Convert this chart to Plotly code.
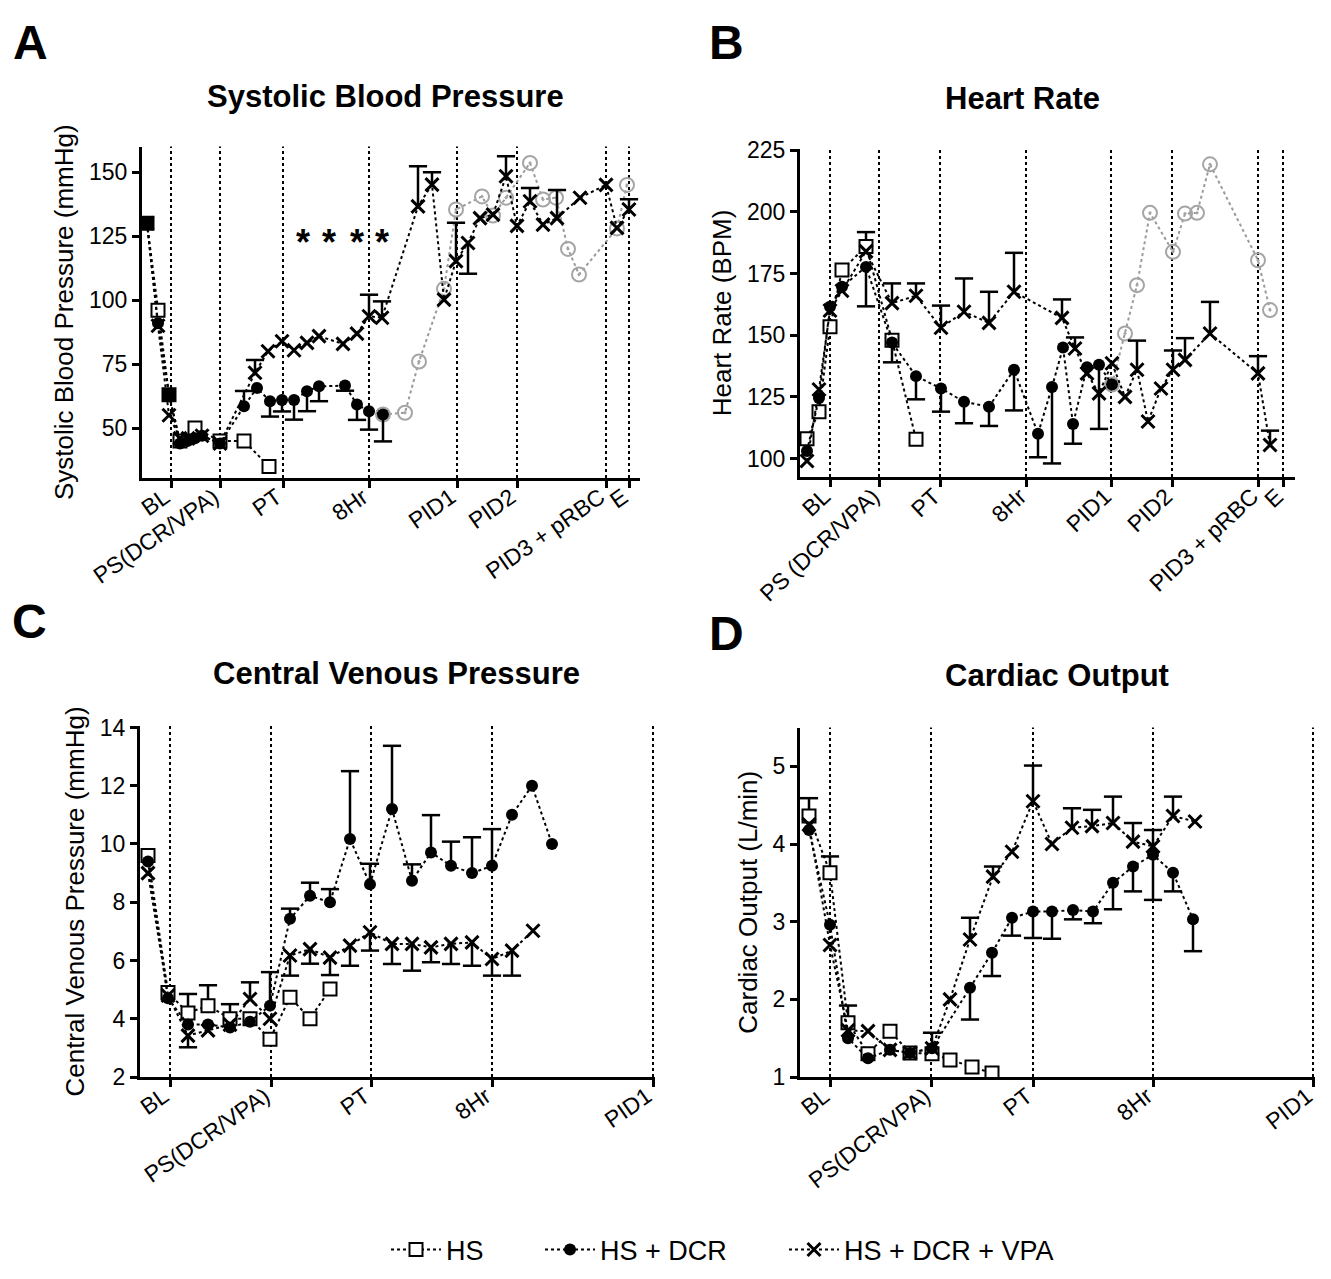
import plotly.graph_objects as go

FONT = "Liberation Sans, Arial, Helvetica, sans-serif"
PAGE_PAD = 8                      # default body margin of the html page
W, H = 1331 - 2 * PAGE_PAD, 1279 - 2 * PAGE_PAD

# ---------------- Panel A : Systolic Blood Pressure (mmHg) ----------------
a_events = [29, 78, 141, 227, 315, 375, 464, 487]
a_event_labels = ["BL", "PS(DCR/VPA)", "PT", "8Hr", "PID1", "PID2", "PID3 + pRBC", "E"]

a_hs_t = [5, 16, 27, 38, 53, 78, 102, 127]
a_hs_v = [130, 96, 63, 45, 50, 45, 45, 35]
a_hs_e = [0, 0, 0, 0, 0, 0, 0, 0]

a_dcr_t = [5, 16, 27, 38, 46, 53, 60, 78, 102, 115, 128, 140, 152, 165, 177, 203, 215, 227, 241]
a_dcr_v = [130, 91, 63, 44, 45, 46, 47, 44, 58.5, 65.7, 60.5, 61, 61, 64.4, 66.3, 66.6, 59.2, 56.6, 55.3]
a_dcr_e = [0, 0, 0, 0, 0, 0, 0, 0, 6, 0, -6, -4.5, -7.7, -7.8, -5.8, -2, -6, -7.2, -10.5]

a_vpa_t = [5, 16, 27, 38, 46, 60, 78, 113, 126, 140, 152, 165, 177, 201, 215, 227, 240,
           276, 290, 302, 314, 326, 338, 351, 364, 375, 388, 401, 415, 438, 464, 475, 487]
a_vpa_v = [130, 90, 55, 46, 46, 47, 44, 71.6, 80, 83.9, 80.4, 83.3, 85.9, 82.9, 86.9, 93.7, 93.1,
           136.6, 145.1, 100.2, 115.2, 122.3, 132, 133.4, 148.4, 129, 138.6, 129.5, 132, 140, 145, 128.2, 135.4]
a_vpa_e = [0, 0, 0, 0, 0, 0, 0, 5, 0, 0, 0, 0, 0, 0, 0, 8.4, 6.4,
           15.7, 4.8, 0, 15, -12, 0, 0, 7.8, 0, 5.2, 0, 11, 0, 0, 0, 4]

a_grey_t = [241, 263, 277, 302, 314, 340, 351, 364, 388, 401, 414, 426, 437, 475, 485]
a_grey_v = [55.3, 56, 76, 104.4, 135.4, 140.5, 133, 140, 153.6, 139.3, 140, 120, 110, 128, 145]

a_sig_t = [161, 187, 215, 240]
a_sig_level = 121

# ---------------- Panel B : Heart Rate (BPM) ----------------
b_events = [30, 79, 140, 226, 311, 372, 458, 483]
b_event_labels = ["BL", "PS (DCR/VPA)", "PT", "8Hr", "PID1", "PID2", "PID3 + pRBC", "E"]

b_hs_t = [7, 19, 30, 42, 66, 92, 116]
b_hs_v = [108, 119, 153.4, 176.4, 186, 148, 107.8]
b_hs_e = [0, 0, 0, 0, 5.8, -9, 0]

b_dcr_t = [7, 19, 30, 42, 66, 92, 116, 141, 164, 189, 214, 238, 252, 263, 273, 287, 299, 312]
b_dcr_v = [103, 124.5, 161.5, 169.6, 177.7, 147, 133.4, 128.4, 123, 121, 136, 110, 129, 145, 114, 137, 138, 130]
b_dcr_e = [0, 0, 0, 0, -16, 0, -9.4, -9.4, -8.7, -7.8, -16.5, -9.5, -31, 0, -8, 0, -26, 0]

b_vpa_t = [7, 19, 30, 42, 66, 92, 116, 141, 164, 189, 214, 262, 275, 287, 299, 312, 325, 337,
           348, 361, 373, 385, 410, 458, 470]
b_vpa_v = [99, 128, 160, 168, 184, 163, 166, 153, 159.5, 155, 167.6, 157, 144.6, 134.5, 126.4, 138.6,
           125, 136, 115, 128.4, 136, 140, 150.7, 134.5, 105.5]
b_vpa_e = [0, 0, 0, 0, 0, 8, 5, 9, 13.5, 12.6, 15.8, 7.5, 4.5, 0, 0, 0, 0, 11.8, 0, 0, 7.8, 8.8, 12.8, 7, 5.8]

b_grey_t = [312, 325, 337, 350, 373, 385, 397, 410, 458, 470]
b_grey_v = [130, 150.7, 170.3, 199.6, 183.8, 199.3, 199.6, 219.3, 180.4, 160.2]

# ---------------- Panel C : Central Venous Pressure (mmHg) ----------------
c_events = [30, 131, 231, 352, 513]
c_event_labels = ["BL", "PS(DCR/VPA)", "PT", "8Hr", "PID1"]

c_hs_t = [8, 28, 48, 68, 90, 110, 130, 150, 170, 190]
c_hs_v = [9.6, 4.9, 4.2, 4.45, 4.0, 4.0, 3.3, 4.74, 4.0, 5.02]
c_hs_e = [0, 0, 0.65, 0.7, 0.5, 0, 0, 0, 0, 0]

c_dcr_t = [8, 28, 48, 68, 90, 110, 130, 150, 170, 190, 210, 230, 252, 272, 291, 311, 332, 352, 372, 392, 412]
c_dcr_v = [9.4, 4.7, 3.8, 3.8, 3.7, 3.9, 4.45, 7.43, 8.22, 8.0, 10.17, 8.62, 11.2, 8.74, 9.71, 9.25, 9.0,
           9.25, 11.0, 12.0, 10.0]
c_dcr_e = [0, 0, 0, 0, 0, 0, 1.15, 0.35, 0.45, 0.45, 2.33, 0.7, 2.17, 0.56, 1.28, 0.83, 1.23, 1.26, 0, 0, 0]

c_vpa_t = [8, 28, 48, 68, 90, 110, 130, 150, 170, 190, 210, 230, 252, 272, 291, 311, 332, 352, 372, 393]
c_vpa_v = [9.0, 4.8, 3.42, 3.6, 3.8, 4.68, 4.0, 6.17, 6.39, 6.1, 6.51, 6.97, 6.57, 6.57, 6.45, 6.57,
           6.62, 6.05, 6.34, 7.02]
c_vpa_e = [0, 0, -0.4, 0, 0, 0.57, 0, -0.69, -0.5, -0.6, -0.69, -0.63, -0.69, -0.92, -0.51, -0.69,
           -0.8, -0.57, -0.86, 0]

# ---------------- Panel D : Cardiac Output (L/min) ----------------
d_events = [30, 131, 233, 353, 513]
d_event_labels = ["BL", "PS(DCR/VPA)", "PT", "8Hr", "PID1"]

d_hs_t = [9, 30, 48, 68, 90, 110, 132, 150, 172, 192]
d_hs_v = [4.36, 3.63, 1.7, 1.3, 1.59, 1.31, 1.3, 1.22, 1.13, 1.05]
d_hs_e = [0.23, 0.21, 0.22, 0, 0, 0, 0, 0, 0, 0]

d_dcr_t = [9, 30, 48, 68, 90, 110, 132, 170, 192, 212, 233, 252, 273, 293, 313, 333, 353, 373, 393]
d_dcr_v = [4.18, 2.96, 1.5, 1.24, 1.35, 1.31, 1.37, 2.15, 2.6, 3.05, 3.13, 3.13, 3.15, 3.13, 3.5, 3.71,
           3.86, 3.63, 3.03]
d_dcr_e = [0, 0, 0, 0, 0, 0, 0.2, -0.41, -0.3, -0.23, -0.34, -0.35, -0.12, -0.15, -0.34, -0.32,
           -0.58, -0.24, -0.41]

d_vpa_t = [9, 30, 48, 68, 90, 110, 132, 150, 170, 193, 212, 233, 252, 272, 292, 313, 333, 353, 373, 395]
d_vpa_v = [4.25, 2.7, 1.6, 1.59, 1.35, 1.31, 1.37, 2.0, 2.77, 3.58, 3.9, 4.55, 4.0, 4.21, 4.23, 4.27,
           4.03, 3.97, 4.36, 4.29]
d_vpa_e = [0, 0, 0, 0, 0, 0, 0, 0, 0.28, 0.13, 0, 0.46, 0, 0.25, 0.21, 0.34, 0.24, 0.21, 0.25, 0]

# ---------------- figure ----------------
fig = go.Figure()


def px_x(p):
    return (p - PAGE_PAD) / W


def px_y(p):
    return 1 - (p - PAGE_PAD) / H


def add_errors(xa, ya, t, v, e):
    xs, ys, back_up, back_dn = [], [], [], []
    for ti, vi, ei in zip(t, v, e):
        if ei:
            xs.append(ti)
            ys.append(vi + ei)
            back_up.append(max(-ei, 0))
            back_dn.append(max(ei, 0))
    fig.add_trace(go.Scatter(
        x=xs, y=ys, xaxis=xa, yaxis=ya, mode="markers",
        marker=dict(symbol="line-ew-open", size=13, color="black",
                    line=dict(color="black", width=2.5)),
        error_y=dict(type="data", symmetric=False, array=back_up, arrayminus=back_dn,
                     width=0, thickness=2.5, color="black"),
        showlegend=False, hoverinfo="skip"))


LINE = dict(color="black", width=2, dash="dot")
STY = {
    "HS": dict(symbol="square", size=13, color="white", line=dict(color="black", width=2)),
    "HS + DCR": dict(symbol="circle", size=12, color="black", line=dict(color="black", width=0)),
    "HS + DCR + VPA": dict(symbol="x-thin", size=13, color="black", line=dict(color="black", width=3)),
}
LEGEND_OF = {"HS": "legend", "HS + DCR": "legend2", "HS + DCR + VPA": "legend3"}


def add_series(xa, ya, name, t, v, e, show, fill_idx=()):
    add_errors(xa, ya, t, v, e)
    mk = dict(STY[name])
    if fill_idx:
        mk["color"] = ["black" if i in fill_idx else "white" for i in range(len(t))]
    fig.add_trace(go.Scatter(
        x=t, y=v, xaxis=xa, yaxis=ya, mode="lines+markers", name=name,
        line=LINE, marker=mk, showlegend=show, legend=LEGEND_OF[name], hoverinfo="skip"))


def add_grey(xa, ya, t, v):
    fig.add_trace(go.Scatter(
        x=t, y=v, xaxis=xa, yaxis=ya, mode="lines+markers",
        line=dict(color="#9a9a9a", width=2, dash="dot"),
        marker=dict(symbol="circle-open-dot", size=14, color="#a5a5a5", line=dict(width=2)),
        showlegend=False, hoverinfo="skip"))


# Panel A
add_grey("x", "y", a_grey_t, a_grey_v)
add_series("x", "y", "HS", a_hs_t, a_hs_v, a_hs_e, False, fill_idx=(0, 2))
add_series("x", "y", "HS + DCR", a_dcr_t, a_dcr_v, a_dcr_e, False)
add_series("x", "y", "HS + DCR + VPA", a_vpa_t, a_vpa_v, a_vpa_e, False)
fig.add_trace(go.Scatter(x=a_sig_t, y=[a_sig_level] * len(a_sig_t), xaxis="x", yaxis="y",
                         mode="text", text=["<b>*</b>"] * len(a_sig_t),
                         textfont=dict(size=36, color="black", family=FONT),
                         showlegend=False, hoverinfo="skip"))
# Panel B (carries the legend entries)
add_grey("x2", "y2", b_grey_t, b_grey_v)
add_series("x2", "y2", "HS", b_hs_t, b_hs_v, b_hs_e, True)
add_series("x2", "y2", "HS + DCR", b_dcr_t, b_dcr_v, b_dcr_e, True)
add_series("x2", "y2", "HS + DCR + VPA", b_vpa_t, b_vpa_v, b_vpa_e, True)
# Panel C
add_series("x3", "y3", "HS", c_hs_t, c_hs_v, c_hs_e, False)
add_series("x3", "y3", "HS + DCR", c_dcr_t, c_dcr_v, c_dcr_e, False)
add_series("x3", "y3", "HS + DCR + VPA", c_vpa_t, c_vpa_v, c_vpa_e, False)
# Panel D
add_series("x4", "y4", "HS", d_hs_t, d_hs_v, d_hs_e, False)
add_series("x4", "y4", "HS + DCR", d_dcr_t, d_dcr_v, d_dcr_e, False)
add_series("x4", "y4", "HS + DCR + VPA", d_vpa_t, d_vpa_v, d_vpa_e, False)

AX = dict(showline=True, linecolor="black", linewidth=3, ticks="outside", ticklen=7, tickwidth=3,
          tickcolor="black", showgrid=False, zeroline=False, fixedrange=True, automargin=False,
          tickfont=dict(size=23, color="black", family=FONT))


def xax(dom, rng, vals, labels, anchor, angle):
    return dict(AX, domain=dom, range=rng, tickvals=vals, ticktext=labels, tickangle=angle,
                anchor=anchor, ticklabelstandoff=-13, ticklabelshift=-6)


def yax(dom, rng, vals, title, anchor):
    return dict(AX, domain=dom, range=rng, tickvals=vals, anchor=anchor,
                title=dict(text=title, font=dict(size=26, color="black", family=FONT), standoff=8))


LEG = dict(orientation="h", yanchor="middle", xanchor="left", y=px_y(1250), itemwidth=50,
           font=dict(size=27, color="black", family=FONT), bgcolor="rgba(0,0,0,0)")

fig.update_layout(
    width=W, height=H, margin=dict(l=0, r=0, t=0, b=0, autoexpand=False),
    paper_bgcolor="white", plot_bgcolor="white",
    font=dict(family=FONT, color="black"),
    xaxis=xax([px_x(142), px_x(640)], [0, 498], a_events, a_event_labels, "y", -35),
    yaxis=yax([px_y(478), px_y(146.5)], [30.5, 160], [50, 75, 100, 125, 150],
              "Systolic Blood Pressure (mmHg)", "x"),
    xaxis2=xax([px_x(800), px_x(1295)], [0, 495], b_events, b_event_labels, "y2", -43),
    yaxis2=yax([px_y(477), px_y(149)], [92.5, 225.5], [100, 125, 150, 175, 200, 225],
               "Heart Rate (BPM)", "x2"),
    xaxis3=xax([px_x(140), px_x(655)], [0, 515], c_events, c_event_labels, "y3", -35),
    yaxis3=yax([px_y(1077), px_y(726)], [2, 14.05], [2, 4, 6, 8, 10, 12, 14],
               "Central Venous Pressure (mmHg)", "x3"),
    xaxis4=xax([px_x(800), px_x(1315)], [0, 515], d_events, d_event_labels, "y4", -38),
    yaxis4=yax([px_y(1077), px_y(727.5)], [1, 5.5], [1, 2, 3, 4, 5],
               "Cardiac Output (L/min)", "x4"),
    legend=dict(LEG, x=px_x(386)),
    legend2=dict(LEG, x=px_x(540)),
    legend3=dict(LEG, x=px_x(784)),
)

# event lines
shapes = []
for xa, ya, evs in [("x", "y", a_events), ("x2", "y2", b_events),
                    ("x3", "y3", c_events), ("x4", "y4", d_events)]:
    for ev in evs:
        shapes.append(dict(type="line", xref=xa, yref=ya + " domain", x0=ev, x1=ev, y0=0, y1=1,
                           line=dict(color="black", width=2, dash="dot"), layer="below"))
fig.update_layout(shapes=shapes)

ann = []
for txt, x, y in [("A", 30, 42), ("B", 726, 42), ("C", 29, 622), ("D", 726, 634)]:
    ann.append(dict(text="<b>" + txt + "</b>", x=px_x(x), y=px_y(y), xref="paper", yref="paper",
                    showarrow=False, font=dict(size=48, color="black", family=FONT),
                    xanchor="center", yanchor="middle"))
for txt, x, y in [("Systolic Blood Pressure", 385, 96), ("Heart Rate", 1022, 98),
                  ("Central Venous Pressure", 396, 673), ("Cardiac Output", 1057, 676)]:
    ann.append(dict(text="<b>" + txt + "</b>", x=px_x(x), y=px_y(y), xref="paper", yref="paper",
                    showarrow=False, font=dict(size=31, color="black", family=FONT),
                    xanchor="center", yanchor="middle"))
fig.update_layout(annotations=ann)

fig.write_html("out.html")
